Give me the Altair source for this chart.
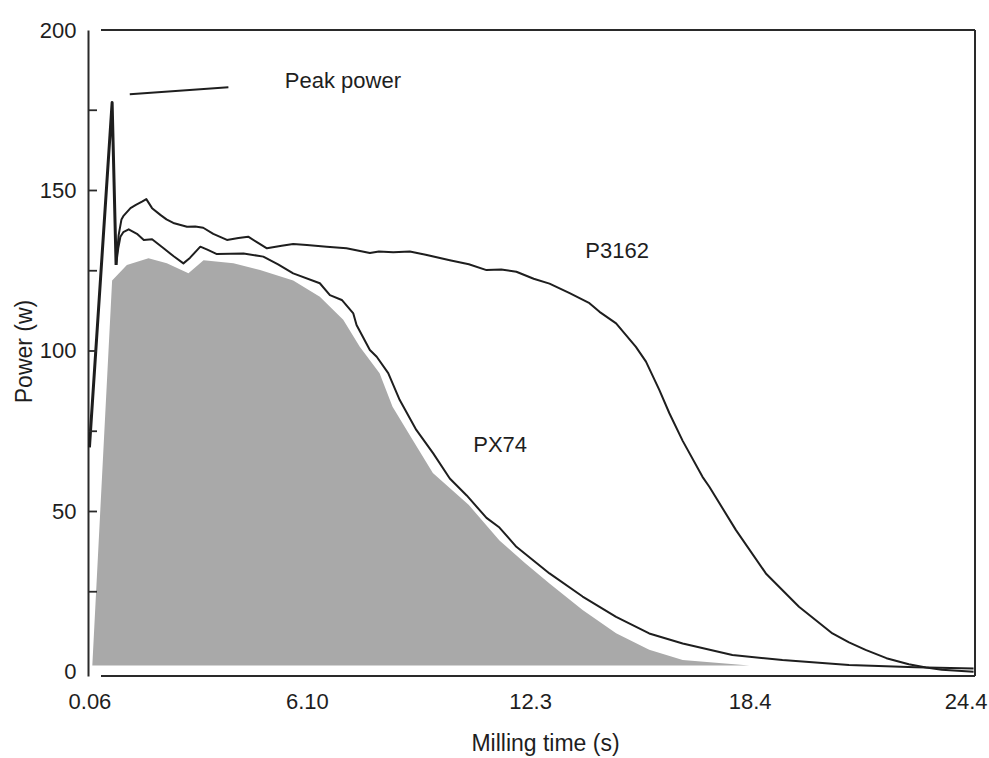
import altair as alt
import pandas as pd

# ---------------- data ----------------
peak_t = [0.06, 0.69, 0.80]
peak_v = [70.0, 177.4, 126.8]

p3162_t = [0.80, 0.87, 0.95, 1.00, 1.20, 1.35, 1.52, 1.64, 1.80, 2.03, 2.20, 2.39,
           2.77, 3.00, 3.22, 3.50, 3.88, 4.20, 4.47, 4.70, 4.99, 5.40, 5.72, 6.10,
           6.65, 7.20, 7.85, 8.10, 8.50, 8.96, 9.40, 10.07, 10.60, 11.09, 11.50,
           11.92, 12.40, 12.84, 13.40, 13.95, 14.23, 14.69, 15.24, 15.52, 15.89,
           16.17, 16.54, 17.09, 17.28, 18.02, 18.85, 19.77, 20.70, 21.16, 21.62,
           22.20, 22.82, 23.30, 23.74, 24.62]
p3162_v = [126.8, 136.0, 141.0, 142.0, 144.5, 145.5, 146.5, 147.3, 144.5, 142.4, 141.0, 139.9,
           138.7, 138.8, 138.4, 136.5, 134.6, 135.2, 135.6, 134.0, 132.0, 132.8, 133.3, 133.0,
           132.5, 132.0, 130.5, 131.0, 130.8, 131.0, 130.0, 128.3, 127.0, 125.2, 125.4,
           124.7, 122.5, 121.0, 118.0, 114.9, 112.2, 108.6, 101.3, 96.7, 87.9,
           80.6, 72.0, 60.8, 57.7, 44.2, 30.7, 20.3, 12.0, 9.2, 6.9,
           4.3, 2.4, 1.4, 0.7, 0.1]

px74_t = [0.80, 0.86, 0.92, 1.00, 1.15, 1.38, 1.57, 1.80, 2.12, 2.40, 2.67, 2.85,
          3.14, 3.35, 3.60, 4.34, 4.89, 5.30, 5.72, 6.46, 6.74, 7.07, 7.39, 7.48,
          7.85, 8.04, 8.36, 8.68, 9.14, 9.61, 10.07, 10.54, 11.09, 11.45, 11.92,
          12.84, 13.76, 14.69, 15.61, 16.54, 17.92, 19.31, 21.16, 23.01, 24.62]
px74_v = [126.8, 132.0, 135.6, 137.0, 137.9, 136.5, 134.6, 134.8, 132.0, 129.5, 127.3, 129.0,
          132.5, 131.5, 130.2, 130.4, 129.4, 127.0, 124.2, 121.1, 117.4, 115.9, 111.7, 108.1,
          100.3, 98.2, 93.1, 84.7, 75.4, 68.1, 60.3, 55.0, 48.0, 45.0, 39.0,
          30.7, 23.5, 17.2, 12.0, 8.9, 5.3, 3.7, 2.2, 1.5, 1.1]

hatch_t = [0.14, 0.69, 1.10, 1.70, 2.21, 2.81, 3.23, 4.06, 4.80, 5.72, 6.46, 7.11,
           7.57, 8.12, 8.48, 9.04, 9.60, 10.60, 11.45, 12.15, 12.84, 13.76, 14.69,
           15.61, 16.54, 18.39]
hatch_v = [2.0, 122.0, 126.8, 128.9, 127.3, 124.2, 128.3, 127.3, 125.2, 122.0, 116.9, 109.7,
           101.3, 93.1, 82.6, 72.3, 62.0, 52.0, 41.0, 34.0, 27.6, 19.3, 12.1,
           6.9, 3.7, 2.0]
hatch_base = 2.0

pointer_t = [1.18, 3.92]
pointer_v = [180.0, 182.2]

label_text = ["Peak power", "P3162", "PX74"]
label_t = [7.10, 14.72, 11.47]
label_v = [184.1, 131.3, 70.7]

x_tick_values = [0.06, 6.10, 12.3, 18.4, 24.4]
x_tick_labels = ["0.06", "6.10", "12.3", "18.4", "24.4"]
y_label_values = [0, 50, 100, 150, 200]
y_minor_ticks = [25, 50, 75, 100, 125, 150, 175]

# ---------------- style ----------------
FONT = "Liberation Sans"
INK = "#1e1e1e"
W, H = 887, 646

xscale = alt.Scale(domain=[0.02, 24.66], nice=False, zero=False)
yscale = alt.Scale(domain=[-1.25, 200], nice=False, zero=False)

x_label_expr = "".join(
    f"datum.value == {v} ? '{l}' : " for v, l in zip(x_tick_values, x_tick_labels)
) + "''"

x_axis = alt.Axis(
    values=x_tick_values, labelExpr=x_label_expr, domain=False, ticks=False, grid=False,
    labelFont=FONT, labelFontSize=22, labelColor=INK, labelPadding=15,
    title="Milling time (s)", titleFont=FONT, titleFontSize=23, titleFontWeight="normal",
    titleColor=INK, titleX=457, titleY=67, titleBaseline="middle", titleAnchor="middle",
)
y_axis = alt.Axis(
    values=y_label_values, domain=True, domainColor="#2a2a2a", domainWidth=2,
    ticks=False, grid=False, labelFont=FONT, labelFontSize=22, labelColor=INK,
    labelPadding=12,
    title="Power (w)", titleFont=FONT, titleFontSize=23, titleFontWeight="normal",
    titleColor=INK, titleX=-64, titleY=321, titleBaseline="middle", titleAngle=270,
)

hatch_df = pd.DataFrame({"t": hatch_t, "v": hatch_v, "base": [hatch_base] * len(hatch_t)})
area = alt.Chart(hatch_df).mark_area(color="#a9a9a9", opacity=1).encode(
    x=alt.X("t:Q", scale=xscale, axis=x_axis),
    y=alt.Y("v:Q", scale=yscale, axis=y_axis),
    y2="base:Q",
)

def line_layer(ts, vs, width):
    df = pd.DataFrame({"t": ts, "v": vs})
    return alt.Chart(df).mark_line(color=INK, strokeWidth=width, strokeJoin="round").encode(
        x=alt.X("t:Q", scale=xscale),
        y=alt.Y("v:Q", scale=yscale),
    )

p3162 = line_layer(p3162_t, p3162_v, 2)
px74 = line_layer(px74_t, px74_v, 2)
peak = line_layer(peak_t, peak_v, 3)

pointer_df = pd.DataFrame({"t": [pointer_t[0]], "t2": [pointer_t[1]],
                           "v": [pointer_v[0]], "v2": [pointer_v[1]]})
pointer = alt.Chart(pointer_df).mark_rule(color=INK, strokeWidth=2).encode(
    x=alt.X("t:Q", scale=xscale), x2="t2:Q",
    y=alt.Y("v:Q", scale=yscale), y2="v2:Q",
)

labels_df = pd.DataFrame({"txt": label_text, "t": label_t, "v": label_v})
labels = alt.Chart(labels_df).mark_text(
    font=FONT, fontSize=22, color=INK, align="center", baseline="middle"
).encode(
    x=alt.X("t:Q", scale=xscale), y=alt.Y("v:Q", scale=yscale), text="txt:N"
)

# inward ticks on the y axis, one per tick value (left end at the axis line)
ticks_df = pd.DataFrame({"v": y_minor_ticks, "t0": [0.02] * len(y_minor_ticks),
                         "t1": [0.27] * len(y_minor_ticks)})
yticks = alt.Chart(ticks_df).mark_rule(color="#2a2a2a", strokeWidth=1.8).encode(
    x=alt.X("t0:Q", scale=xscale), x2="t1:Q",
    y=alt.Y("v:Q", scale=yscale),
)

frame_df = pd.DataFrame({"k": [0]})
frame_top = alt.Chart(frame_df).mark_rule(color="#2a2a2a", strokeWidth=2).encode(
    x=alt.value(13), x2=alt.value(W), y=alt.value(0)
)
frame_right = alt.Chart(frame_df).mark_rule(color="#2a2a2a", strokeWidth=2).encode(
    x=alt.value(W), y=alt.value(0), y2=alt.value(H)
)
frame_bottom = alt.Chart(frame_df).mark_rule(color="#2a2a2a", strokeWidth=2).encode(
    x=alt.value(13), x2=alt.value(W), y=alt.value(H)
)

chart = alt.layer(
    area, p3162, px74, peak, pointer, labels, yticks,
    frame_top, frame_right, frame_bottom
).properties(
    width=W, height=H,
    autosize=alt.AutoSizeParams(type="none"),
    padding={"left": 88, "top": 30, "right": 14, "bottom": 82},
    background="white",
).configure_view(stroke=None)

chart.save("out.html", embed_options={"renderer": "svg", "actions": False})
